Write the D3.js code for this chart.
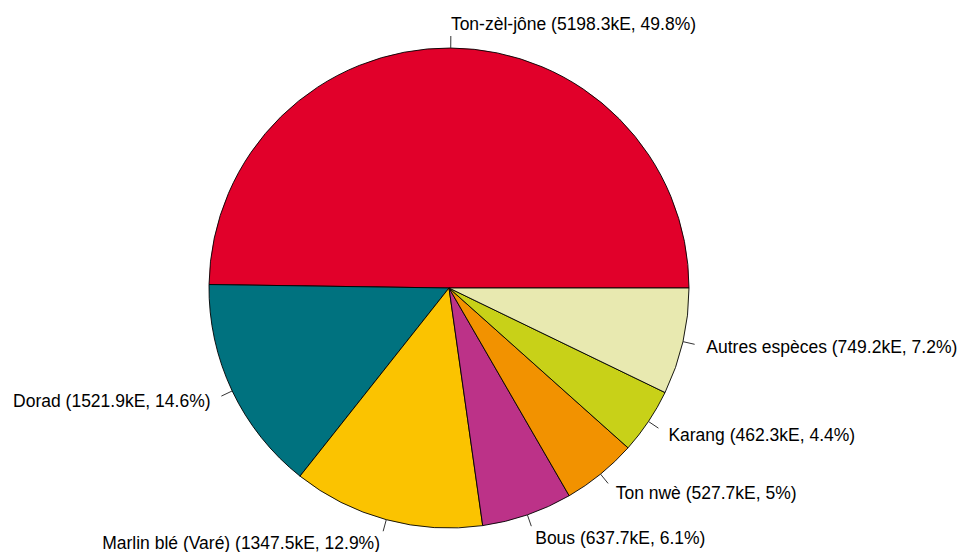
<!DOCTYPE html>
<html>
<head>
<meta charset="utf-8">
<script src="https://cdn.jsdelivr.net/npm/d3@7"></script>
<style>
  body { margin: 0; background: #fff; }
  svg text { font-family: "Liberation Sans", Arial, sans-serif; font-size: 17.5px; fill: #000; }
</style>
</head>
<body>
<div id="chart"></div>
<script>
// especes, valeurs (kE) et pourcentages affiches
var species = ["Ton-zèl-jône", "Dorad", "Marlin blé (Varé)", "Bous", "Ton nwè", "Karang", "Autres espèces"];
var values = [5198.3, 1521.9, 1347.5, 637.7, 527.7, 462.3, 749.2];
var percents = ["49.8", "14.6", "12.9", "6.1", "5", "4.4", "7.2"];
var colors = ["#E1002A", "#00727F", "#FBC300", "#BC3288", "#F29200", "#C8D118", "#E8E9B0"];

var w = 959, h = 552;
var cx = 449, cy = 288, r = 240;

var svg = d3.select('#chart').append('svg')
    .attr('width', w)
    .attr('height', h);

// comme pie() de R : depart a 3h, sens anti-horaire
var pie = d3.pie().sort(null).startAngle(Math.PI / 2).endAngle(Math.PI / 2 - 2 * Math.PI);
var arcs = pie(values);
var arc = d3.arc().innerRadius(0).outerRadius(r);

var g = svg.append('g').attr('transform', 'translate(' + cx + ',' + cy + ')');

g.selectAll('path')
    .data(arcs)
    .enter()
    .append('path')
    .attr('d', arc)
    .attr('fill', function(d, i) { return colors[i]; })
    .attr('stroke', '#000')
    .attr('stroke-width', 0.9);

arcs.forEach(function(d, i) {
    var a = (d.startAngle + d.endAngle) / 2;
    var sx = Math.sin(a), sy = -Math.cos(a);
    g.append('line')
        .attr('x1', sx * r).attr('y1', sy * r)
        .attr('x2', sx * r * 1.05).attr('y2', sy * r * 1.05)
        .attr('stroke', '#333')
        .attr('stroke-width', 1);
    g.append('text')
        .attr('x', sx * r * 1.1)
        .attr('y', sy * r * 1.1)
        .attr('dy', '0.35em')
        .attr('text-anchor', sx > 0 ? 'start' : 'end')
        .text(species[i] + ' (' + values[i].toFixed(1) + 'kE, ' + percents[i] + '%)');
});
</script>
</body>
</html>
